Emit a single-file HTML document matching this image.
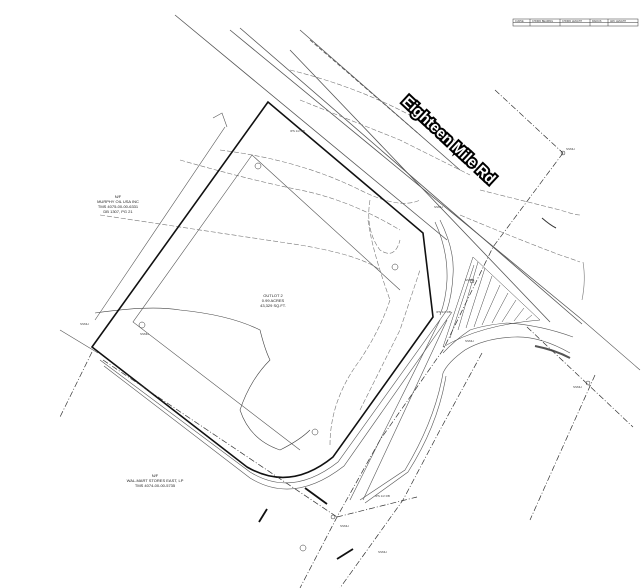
<!DOCTYPE html>
<html><head><meta charset="utf-8"><style>
html,body{margin:0;padding:0;background:#fff;width:641px;height:588px;overflow:hidden}
svg{display:block;font-family:"Liberation Sans",sans-serif}
</style></head><body>
<svg width="641" height="588" viewBox="0 0 641 588" xmlns="http://www.w3.org/2000/svg">
<rect width="641" height="588" fill="#fff"/>
<!-- table -->
<g stroke="#333" stroke-width="0.5" fill="none">
<rect x="513" y="19" width="125" height="7"/>
<line x1="513" y1="22.5" x2="638" y2="22.5"/>
<line x1="530" y1="19" x2="530" y2="26"/><line x1="560" y1="19" x2="560" y2="26"/>
<line x1="590" y1="19" x2="590" y2="26"/><line x1="608" y1="19" x2="608" y2="26"/>
</g>
<g font-size="2.5" fill="#333"><text x="515" y="22">CURVE</text><text x="532" y="22">CHORD BEARING</text><text x="562" y="22">CHORD LENGTH</text><text x="592" y="22">RADIUS</text><text x="610" y="22">ARC LENGTH</text></g>
<!-- road lines -->
<g stroke="#555" stroke-width="0.8" fill="none">
<line x1="175" y1="15" x2="447" y2="240"/>
<line x1="230" y1="30" x2="580" y2="318"/>
<line x1="240" y1="28" x2="582" y2="324"/>
<line x1="300" y1="30" x2="460" y2="170"/>
<line x1="290" y1="50" x2="550" y2="322"/>
<line x1="310" y1="40" x2="420" y2="135" stroke-dasharray="4,2"/>
</g>
<!-- contours -->
<g stroke="#777" stroke-width="0.6" fill="none" stroke-dasharray="5,2">
<path d="M290 70 Q350 85 400 110 Q440 130 470 150"/>
<path d="M300 100 Q350 120 400 140 Q440 160 470 175"/>
<path d="M480 190 Q520 200 560 210 Q575 215 580 215"/>
<path d="M460 215 Q520 240 560 255 Q575 260 580 262"/>
<path d="M220 150 Q300 160 360 190 Q400 210 420 200"/>
<path d="M180 160 Q250 180 300 190 Q350 200 400 230"/>
<path d="M100 215 Q200 230 300 245 Q360 255 380 270"/>
<path d="M95 313 Q150 305 180 310 Q230 315 260 330 Q265 350 270 360 Q250 380 240 410 Q250 440 280 450 Q300 440 310 430" stroke-dasharray="none" stroke="#444"/>
<path d="M330 445 Q330 400 360 360 Q380 330 390 300"/>
<path d="M360 410 Q380 370 400 330 Q410 300 420 270"/>
<path d="M370 200 Q365 230 380 250 Q395 260 400 240"/>
<path d="M368 220 Q372 250 390 300"/>
</g>
<path d="M542 218 Q550 225 556 228" stroke="#333" stroke-width="1" fill="none"/>
<path d="M583 262 Q586 280 582 300" stroke="#777" stroke-width="0.6" fill="none"/>
<!-- main lot boundary -->
<path d="M268 102 L92 347 L247 467 Q290 492 333 457 L433 317 L423 233 Z" fill="none" stroke="#111" stroke-width="1.6"/>
<!-- inner setback / parcel lines -->
<g stroke="#555" stroke-width="0.6" fill="none">
<path d="M252 155 L133 322 L300 450"/>
<path d="M252 155 L400 290"/>
<line x1="60" y1="330" x2="98" y2="353"/>
<path d="M225 127 L95 320"/>
<path d="M213 118 L222 113 L227 127"/>
<path d="M100 360 L250 472 Q292 498 338 462 L447 310"/>
<path d="M104 366 L250 478 Q294 505 344 466 L452 312"/>
<!-- main road curve -->
<path d="M440 220 Q455 250 453 275 Q452 295 447 310"/>
<path d="M435 222 Q448 250 447 280 Q446 300 440 315"/>
<line x1="440" y1="320" x2="350" y2="500"/>
<line x1="447" y1="320" x2="363" y2="500"/>
<!-- right road -->
<path d="M570 353 Q540 336 515 337 Q485 338 465 350 Q448 362 443 373"/>
<path d="M573 337 Q540 325 507 323 Q485 325 470 330 Q455 340 443 353"/>
<path d="M443 373 Q435 420 405 470 L360 500"/>
<path d="M446 376 Q438 425 408 472 L365 503"/>
<path d="M580 318 L640 370"/>
</g>
<path d="M535 346 Q555 350 570 358" stroke="#555" stroke-width="2" fill="none"/>
<!-- dash-dot lines -->
<g stroke="#333" stroke-width="0.7" fill="none" stroke-dasharray="6,2,1,2">
<line x1="495" y1="90" x2="563" y2="153"/>
<polyline points="563,153 493,247 443,350 380,440 337,517 300,588"/>
<polyline points="482,353 440,430 403,500 340,588"/>
<line x1="527" y1="327" x2="633" y2="427"/>
<line x1="92" y1="352" x2="60" y2="417"/>
<line x1="103" y1="360" x2="337" y2="517"/>
<line x1="337" y1="517" x2="417" y2="497"/>
<line x1="595" y1="375" x2="530" y2="520"/>
</g>
<!-- hatch -->
<g stroke="#444" stroke-width="0.5">
<path d="M473 257 L540 320 Q480 325 443 347 Z" fill="none"/>
<line x1="478" y1="262" x2="458" y2="330"/><line x1="485" y1="268" x2="466" y2="328"/>
<line x1="492" y1="276" x2="474" y2="327"/><line x1="500" y1="285" x2="482" y2="325"/>
<line x1="508" y1="293" x2="492" y2="323"/><line x1="516" y1="300" x2="502" y2="322"/>
<line x1="524" y1="308" x2="514" y2="321"/><line x1="532" y1="315" x2="526" y2="320"/>
<line x1="474" y1="265" x2="450" y2="338"/>
</g>
<!-- thick ticks -->
<g stroke="#111" stroke-width="1.8">
<line x1="305" y1="488" x2="327" y2="504"/>
<line x1="259" y1="522" x2="267" y2="509"/>
<line x1="337" y1="559" x2="353" y2="549"/>
</g>
<!-- Road label -->
<text x="0" y="5" transform="translate(449,140) rotate(43)" text-anchor="middle" font-size="15" font-weight="bold" fill="#fff" stroke="#000" stroke-width="4" paint-order="stroke">Eighteen Mile Rd</text>
<!-- labels -->
<g font-size="4" fill="#222" text-anchor="middle">
<text x="118" y="198">N/F</text>
<text x="118" y="203">MURPHY OIL USA INC</text>
<text x="118" y="208">TMS 4075-00-00-6331</text>
<text x="118" y="213">DB 1307, PG 21</text>
<text x="273" y="297">OUTLOT 2</text>
<text x="273" y="302">0.99 ACRES</text>
<text x="273" y="307">43,329 SQ.FT.</text>
<text x="155" y="477">N/F</text>
<text x="155" y="482">WAL-MART STORES EAST, LP</text>
<text x="155" y="487">TMS 4074-00-00-5735</text>
</g>
<g font-size="3" fill="#444">
<text x="434" y="208">SSMH</text><text x="566" y="150">SSMH</text><text x="573" y="388">SSMH</text>
<text x="375" y="497">IPS 1/2 RB</text><text x="80" y="325">SSMH</text><text x="465" y="281">SSMH</text>
<text x="340" y="527">SSMH</text><text x="378" y="553">SSMH</text><text x="290" y="132">IPS 1/2 RB</text>
<text x="465" y="342">SSMH</text><text x="436" y="313">IPS 1/2 RB</text><text x="140" y="335">SSMH</text>
</g>
<g fill="none" stroke="#333" stroke-width="0.5">
<circle cx="258" cy="166" r="3"/><circle cx="142" cy="325" r="3"/><circle cx="303" cy="548" r="3"/>
<circle cx="315" cy="432" r="3"/><circle cx="395" cy="267" r="3"/><circle cx="563" cy="153" r="2"/>
<circle cx="333" cy="517" r="2"/><circle cx="472" cy="281" r="2"/><circle cx="588" cy="383" r="2"/>
</g>
</svg>
</body></html>
